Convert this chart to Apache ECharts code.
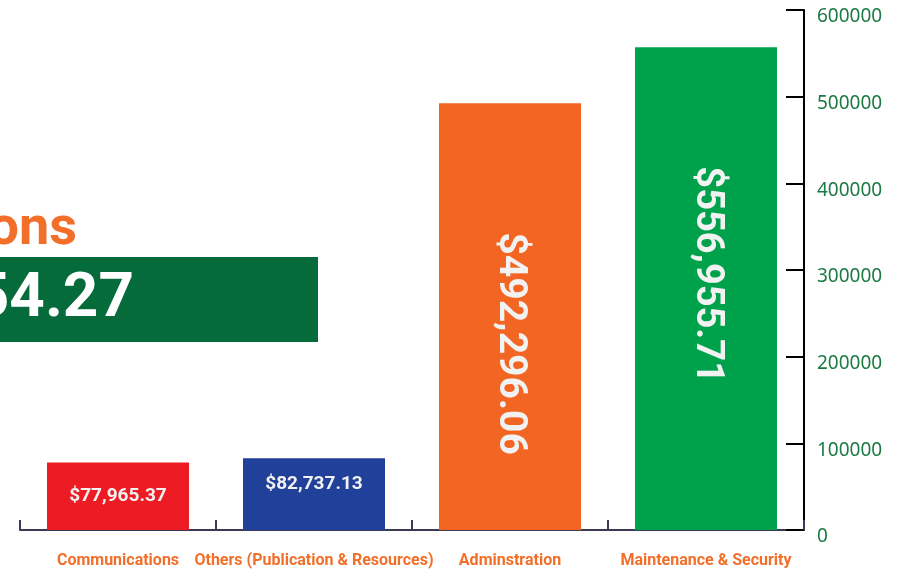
<!DOCTYPE html>
<html>
<head>
<meta charset="utf-8">
<script src="https://cdn.jsdelivr.net/npm/echarts@6/dist/echarts.min.js"></script>
<style>
  html, body { margin: 0; padding: 0; background: #ffffff; }
  #chart { width: 899px; height: 573px; }
</style>
</head>
<body>
<div id="chart"></div>
<script>
// data
var categories = ['Communications', 'Others (Publication & Resources)', 'Adminstration', 'Maintenance & Security'];
var values = [77965.37, 82737.13, 492296.06, 556955.71];
var barColors = ['#ed1c24', '#21409a', '#f26522', '#00a14b'];
var valueLabels = ['$77,965.37', '$82,737.13', '$492,296.06', '$556,955.71'];
var totalText = '$1,209,954.27';

var chart = echarts.init(document.getElementById('chart'));

// label placement per bar
var labelConf = [
    { position: 'inside', rotate: 0, fontSize: 19, offset: [0, 0] },
    { position: 'insideTop', rotate: 0, fontSize: 19, distance: 16, offset: [0, 0] },
    { position: 'inside', rotate: -90, fontSize: 39, offset: [27, 0] },
    { position: 'inside', rotate: -90, fontSize: 38, offset: [-14, 0] }
];

var barData = values.map(function (v, i) {
    var c = labelConf[i];
    return {
        value: v,
        itemStyle: { color: barColors[i] },
        label: {
            show: true,
            position: c.position,
            rotate: c.rotate,
            distance: c.distance || 5,
            offset: c.offset,
            fontSize: c.fontSize,
            fontWeight: 'bold',
            fontFamily: 'Roboto',
            color: '#f2f2f2',
            formatter: function () { return valueLabels[i]; }
        }
    };
});

var option = {
    backgroundColor: '#ffffff',
    animation: false,
    grid: { left: 20, right: 95, top: 10, bottom: 43 },
    graphic: [
        {
            type: 'text',
            right: 899 - 77,
            top: 203,
            style: {
                text: 'ons',
                fill: '#f26f2a',
                font: 'bold 54px Roboto'
            }
        },
        {
            type: 'rect',
            shape: { x: 0, y: 257, width: 318, height: 85 },
            style: { fill: '#056b3a' }
        },
        {
            type: 'text',
            x: 134,
            y: 300,
            style: {
                text: totalText,
                fill: '#ffffff',
                font: 'bold 62px Roboto',
                align: 'right',
                verticalAlign: 'middle'
            }
        }
    ],
    xAxis: {
        type: 'category',
        data: categories,
        axisLine: { lineStyle: { color: '#3c3a57', width: 2 } },
        axisTick: { show: true, inside: true, length: 10, lineStyle: { color: '#3c3a57', width: 2 } },
        axisLabel: {
            interval: 0,
            margin: 23,
            color: '#f26f2a',
            fontFamily: 'Roboto',
            fontWeight: 'bold',
            fontSize: 16
        }
    },
    yAxis: {
        type: 'value',
        position: 'right',
        min: 0,
        max: 600000,
        interval: 100000,
        splitLine: { show: false },
        axisLine: { show: true, lineStyle: { color: '#000000', width: 2 } },
        axisTick: { show: true, inside: true, length: 18, lineStyle: { color: '#000000', width: 2 } },
        axisLabel: {
            margin: 13,
            verticalAlign: 'top',
            lineHeight: 14,
            color: '#1c7a45',
            fontFamily: 'Noto Sans',
            fontSize: 19,
            formatter: function (v) { return String(v); }
        }
    },
    series: [
        {
            type: 'bar',
            barWidth: 142,
            data: barData
        }
    ]
};

chart.setOption(option);
</script>
</body>
</html>
